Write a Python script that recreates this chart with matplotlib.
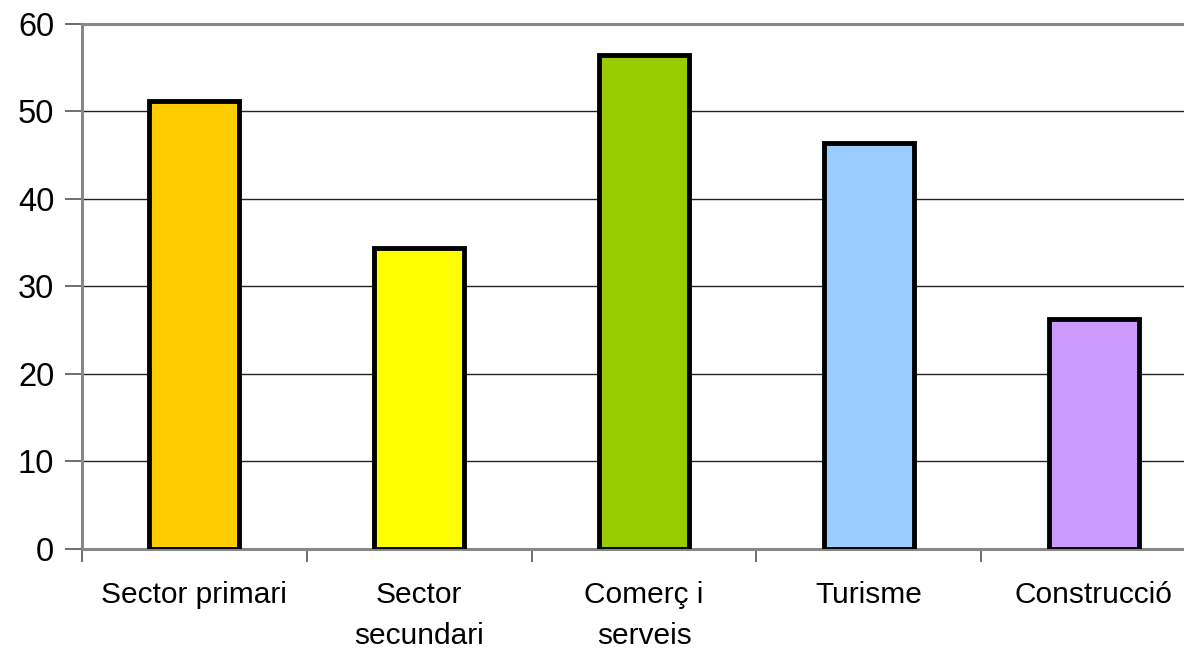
import matplotlib.pyplot as plt

plt.rcParams['font.family'] = ['Liberation Sans', 'DejaVu Sans']

categories = ['Sector primari', 'Sector\nsecundari', 'Comerç i\nserveis', 'Turisme', 'Construcció']
values = [51.2, 34.4, 56.4, 46.3, 26.3]
colors = ['#FFCC00', '#FFFF00', '#99CC00', '#99CCFF', '#CC99FF']
yticks = [0, 10, 20, 30, 40, 50, 60]

fig = plt.figure(figsize=(11.84, 6.51), dpi=100)
# plot area runs past the right edge of the picture, like in the original
ax = fig.add_axes([82 / 1184, 1 - 549 / 651, 1124 / 1184, 525.5 / 651])

x = list(range(len(categories)))
ax.bar(x, values, width=0.4, color=colors, edgecolor='black', linewidth=3.5, zorder=3)

ax.set_xlim(-0.5, len(categories) - 0.5)
ax.set_ylim(0, 60)
ax.set_yticks(yticks)
ax.set_yticklabels([str(v) for v in yticks], fontsize=23.5)
ax.yaxis.grid(True, color='#222222', linewidth=1.0, zorder=0)
ax.set_axisbelow(True)

# category labels between boundary ticks
ax.set_xticks([i - 0.5 for i in range(len(categories) + 1)])
ax.set_xticklabels([])
ax.tick_params(axis='x', direction='out', length=9, width=1.2, color='#555555')
ax.tick_params(axis='y', direction='out', length=12, width=1.2, color='#555555', pad=8)
for i, lab in enumerate(categories):
    ax.text(i, -3.6, lab, ha='center', va='top', fontsize=21.5, linespacing=1.6,
            transform=ax.transData)

for side in ['left', 'bottom', 'top']:
    ax.spines[side].set_color('#888888')
    ax.spines[side].set_linewidth(2.2)
ax.spines['right'].set_visible(False)

fig.savefig('out.png', dpi=100)
